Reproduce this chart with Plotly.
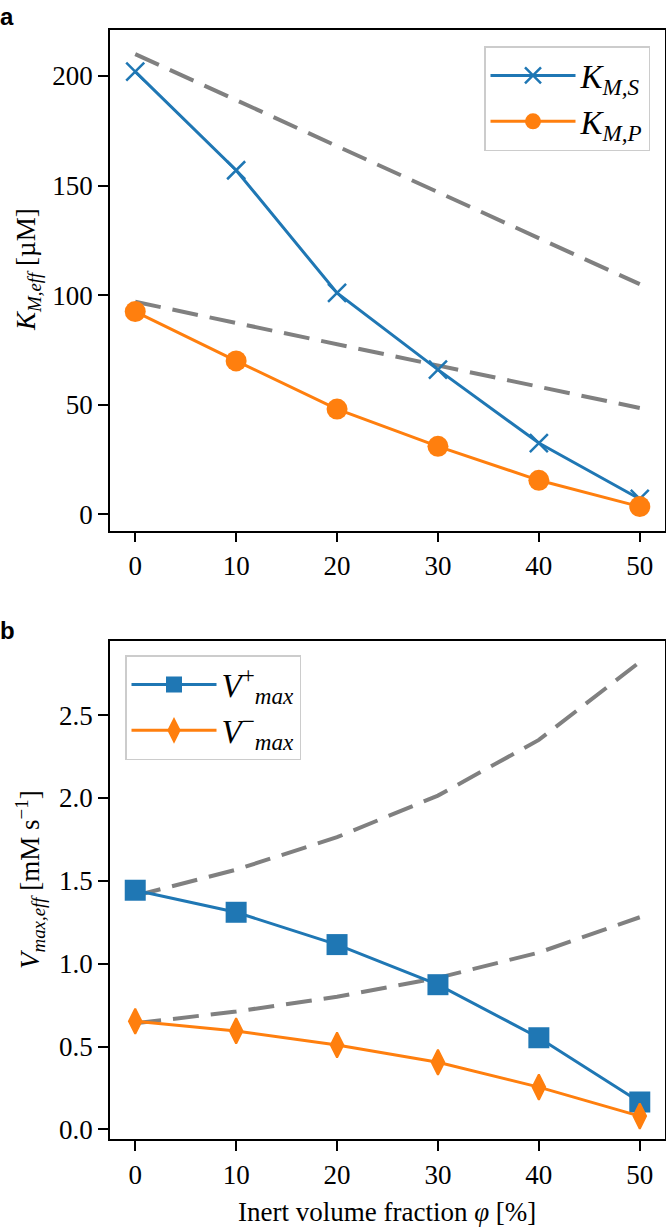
import plotly.graph_objects as go

phi = [0, 10, 20, 30, 40, 50]

# Panel a
km_s = [202, 157, 101, 66, 32.5, 7]
km_p = [92.5, 70, 48, 31, 15.5, 3.5]
km_s_ref = [210, 189, 168, 147, 126, 105]
km_p_ref = [97, 87.3, 77.6, 67.9, 58.2, 48.5]

# Panel b
vmax_plus = [1.443, 1.31, 1.115, 0.873, 0.553, 0.165]
vmax_minus = [0.652, 0.594, 0.509, 0.405, 0.255, 0.08]
vmax_plus_ref = [1.41, 1.567, 1.763, 2.014, 2.35, 2.82]
vmax_minus_ref = [0.64, 0.711, 0.80, 0.914, 1.067, 1.28]

BLUE = "#1f77b4"
ORANGE = "#ff7f0e"
GRAY = "#808080"
FONT = "Liberation Serif"

fig = go.Figure()

dash = dict(color=GRAY, width=4, dash="26px,12px")

# top panel
fig.add_trace(go.Scatter(x=phi, y=km_s_ref, mode="lines", line=dash, showlegend=False, xaxis="x", yaxis="y"))
fig.add_trace(go.Scatter(x=phi, y=km_p_ref, mode="lines", line=dash, showlegend=False, xaxis="x", yaxis="y"))
fig.add_trace(go.Scatter(x=phi, y=km_s, mode="lines+markers", name="<i>K</i><sub><i>M,S</i></sub>",
                         line=dict(color=BLUE, width=3),
                         marker=dict(symbol="x-thin", size=18, color=BLUE, line=dict(color=BLUE, width=2.5)),
                         xaxis="x", yaxis="y", legend="legend"))
fig.add_trace(go.Scatter(x=phi, y=km_p, mode="lines+markers", name="<i>K</i><sub><i>M,P</i></sub>",
                         line=dict(color=ORANGE, width=3),
                         marker=dict(symbol="circle", size=21, color=ORANGE),
                         xaxis="x", yaxis="y", legend="legend"))

# bottom panel
fig.add_trace(go.Scatter(x=phi, y=vmax_plus_ref, mode="lines", line=dash, showlegend=False, xaxis="x2", yaxis="y2"))
fig.add_trace(go.Scatter(x=phi, y=vmax_minus_ref, mode="lines", line=dash, showlegend=False, xaxis="x2", yaxis="y2"))
fig.add_trace(go.Scatter(x=phi, y=vmax_plus, mode="lines+markers", name="<i>V</i><sup>+</sup><sub><i>max</i></sub>",
                         line=dict(color=BLUE, width=3),
                         marker=dict(symbol="square", size=21, color=BLUE),
                         xaxis="x2", yaxis="y2", legend="legend2"))
fig.add_trace(go.Scatter(x=phi, y=vmax_minus, mode="lines+markers", name="<i>V</i><sup>−</sup><sub><i>max</i></sub>",
                         line=dict(color=ORANGE, width=3),
                         marker=dict(symbol="diamond-tall", size=18, color=ORANGE, line=dict(color=ORANGE, width=2)),
                         xaxis="x2", yaxis="y2", legend="legend2"))

W, H = 666, 1230
xl, xr = 110 / W, 665 / W
def py(p):
    return 1 - p / H

axis_common = dict(showline=True, linecolor="black", linewidth=1.7, mirror=True,
                   ticks="outside", ticklen=10, tickwidth=1.7, tickcolor="black",
                   showgrid=False, zeroline=False, automargin=False,
                   tickfont=dict(family=FONT, size=27, color="black"))

fig.update_layout(
    width=W, height=H,
    margin=dict(l=0, r=0, t=0, b=0),
    paper_bgcolor="white", plot_bgcolor="white",
    font=dict(family=FONT, color="black"),
    xaxis=dict(domain=[xl, xr], range=[-2.5, 52.5], tickvals=phi, anchor="y", **axis_common),
    yaxis=dict(domain=[py(530.5), py(30)], range=[-7.4, 221], tickvals=[0, 50, 100, 150, 200], anchor="x",
               **axis_common),
    xaxis2=dict(domain=[xl, xr], range=[-2.5, 52.5], tickvals=phi, anchor="y2", **axis_common),
    yaxis2=dict(domain=[py(1139.3), py(640.5)], range=[-0.06, 2.95], tickvals=[0, 0.5, 1.0, 1.5, 2.0, 2.5],
                tickformat=".1f", anchor="x2", **axis_common),
    legend=dict(x=650 / W, xanchor="right", y=py(46), yanchor="top",
                bgcolor="rgba(255,255,255,0.8)", bordercolor="#cccccc", borderwidth=1.5,
                font=dict(family=FONT, size=33), itemwidth=85, tracegroupgap=0),
    legend2=dict(x=125 / W, xanchor="left", y=py(655), yanchor="top",
                 bgcolor="rgba(255,255,255,0.8)", bordercolor="#cccccc", borderwidth=1.5,
                 font=dict(family=FONT, size=33), itemwidth=85, tracegroupgap=0),
    annotations=[
        dict(text="<b>a</b>", x=0, y=py(16), xref="paper", yref="paper", xanchor="left", yanchor="middle",
             showarrow=False, font=dict(family="Liberation Sans", size=24, color="black"), xshift=-2),
        dict(text="<b>b</b>", x=0, y=py(630), xref="paper", yref="paper", xanchor="left", yanchor="middle",
             showarrow=False, font=dict(family="Liberation Sans", size=24, color="black"), xshift=-2),
        dict(text="<i>K</i><sub><i>M,eff</i></sub> [µM]", x=28 / W, y=py(270), xref="paper", yref="paper",
             xanchor="center", yanchor="middle", textangle=-90, showarrow=False,
             font=dict(family=FONT, size=27, color="black")),
        dict(text="<i>V</i><sub><i>max,eff</i></sub> [mM s<sup>−1</sup>]", x=30 / W, y=py(880), xref="paper", yref="paper",
             xanchor="center", yanchor="middle", textangle=-90, showarrow=False,
             font=dict(family=FONT, size=27, color="black")),
        dict(text="Inert volume fraction <i>φ</i> [%]", x=387 / W, y=py(1212), xref="paper", yref="paper",
             xanchor="center", yanchor="middle", showarrow=False,
             font=dict(family=FONT, size=27, color="black")),
    ],
)

fig.write_html("out.html", config={"displayModeBar": False},
               post_script="document.body.style.margin='0';document.body.style.overflow='hidden';")
